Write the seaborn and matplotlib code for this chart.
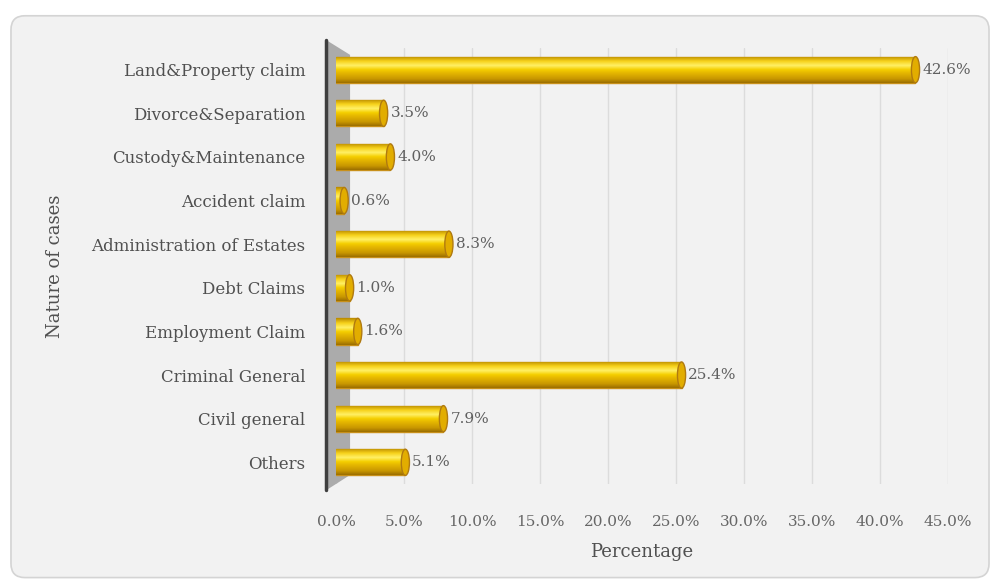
import numpy as np
import pandas as pd
import matplotlib
matplotlib.use("Agg")
import matplotlib.pyplot as plt
import seaborn as sns
from matplotlib.patches import FancyBboxPatch, Polygon, Ellipse
from matplotlib.colors import LinearSegmentedColormap

# Nature of cases and their share of the total
categories = [
    "Land&Property claim",
    "Divorce&Separation",
    "Custody&Maintenance",
    "Accident claim",
    "Administration of Estates",
    "Debt Claims",
    "Employment Claim",
    "Criminal General",
    "Civil general",
    "Others",
]
percentages = [42.6, 3.5, 4.0, 0.6, 8.3, 1.0, 1.6, 25.4, 7.9, 5.1]
x_ticks = [0, 5, 10, 15, 20, 25, 30, 35, 40, 45]
x_tick_labels = [f"{t:.1f}%" for t in x_ticks]

df = pd.DataFrame({"case": categories, "pct": percentages})

sns.set_theme(style="white")
plt.rcParams["font.family"] = ["DejaVu Serif"]

fig = plt.figure(figsize=(9.97, 5.84), dpi=100)
fig.patch.set_facecolor("white")

# rounded chart-area frame
frame = FancyBboxPatch(
    (0.011, 0.011), 0.981, 0.962,
    boxstyle="round,pad=0,rounding_size=0.014",
    mutation_aspect=997 / 584,
    transform=fig.transFigure, facecolor="#f2f2f2",
    edgecolor="#d4d4d4", lw=1.2, zorder=-5,
)
fig.patches.append(frame)

ax = fig.add_axes([0.337, 0.171, 0.614, 0.747])
ax.set_facecolor("none")

sns.barplot(data=df, y="case", x="pct", orient="h", color="#f2c200",
            width=0.6, saturation=1, ax=ax, zorder=3)

# cylinder shading: vertical gradient clipped to each bar
gold = LinearSegmentedColormap.from_list(
    "gold",
    [(0.0, "#b98a00"), (0.18, "#f7d21a"), (0.35, "#fff066"),
     (0.5, "#f5cf00"), (0.62, "#e6b800"), (0.85, "#c99700"), (1.0, "#9c6f00")],
)
grad = np.linspace(0, 1, 64).reshape(-1, 1)
for bar, val in zip(ax.patches, percentages):
    x0, y0 = bar.get_x(), bar.get_y()
    w, h = bar.get_width(), bar.get_height()
    bar.set_edgecolor("#c8901a")
    bar.set_linewidth(1.0)
    img = ax.imshow(grad, cmap=gold, aspect="auto", origin="upper",
                    extent=(x0, x0 + w, y0 + h, y0), zorder=3.5,
                    interpolation="bilinear")
    img.set_clip_path(bar)
    cap = Ellipse((x0 + w, y0 + h / 2), width=0.6, height=h,
                  facecolor="#e2ad00", edgecolor="#b07a10", lw=1.0, zorder=4)
    ax.add_patch(cap)
    ax.text(x0 + w + 0.5, y0 + h / 2, f"{val:.1f}%", va="center",
            ha="left", color="#606060", fontsize=11, zorder=5)

ax.set_xlim(0, 45)
ax.set_ylim(len(categories) - 0.5, -0.5)
ax.set_xticks(x_ticks)
ax.set_xticklabels(x_tick_labels)
ax.grid(axis="x", color="#dcdcdc", lw=1.0, zorder=0)
ax.grid(axis="y", visible=False)
for s in ax.spines.values():
    s.set_visible(False)
ax.tick_params(axis="x", length=0, pad=22, labelsize=11, labelcolor="#666666")
ax.tick_params(axis="y", length=0, pad=22, labelsize=12, labelcolor="#505050")

# side wall of the plot area
wall = Polygon([(-0.016, 1.018), (0.023, 0.984), (0.023, 0.021), (-0.016, -0.014)],
               closed=True, transform=ax.transAxes, facecolor="#ababab",
               edgecolor="none", clip_on=False, zorder=1)
ax.add_patch(wall)
ax.plot([-0.016, -0.016], [-0.014, 1.018], transform=ax.transAxes,
        color="#3f3f3f", lw=2.5, clip_on=False, zorder=2)

ax.set_xlabel("Percentage", fontsize=13, color="#505050", labelpad=10)
ax.set_ylabel("Nature of cases", fontsize=13, color="#505050", labelpad=20)

fig.savefig("out.png", dpi=100)
